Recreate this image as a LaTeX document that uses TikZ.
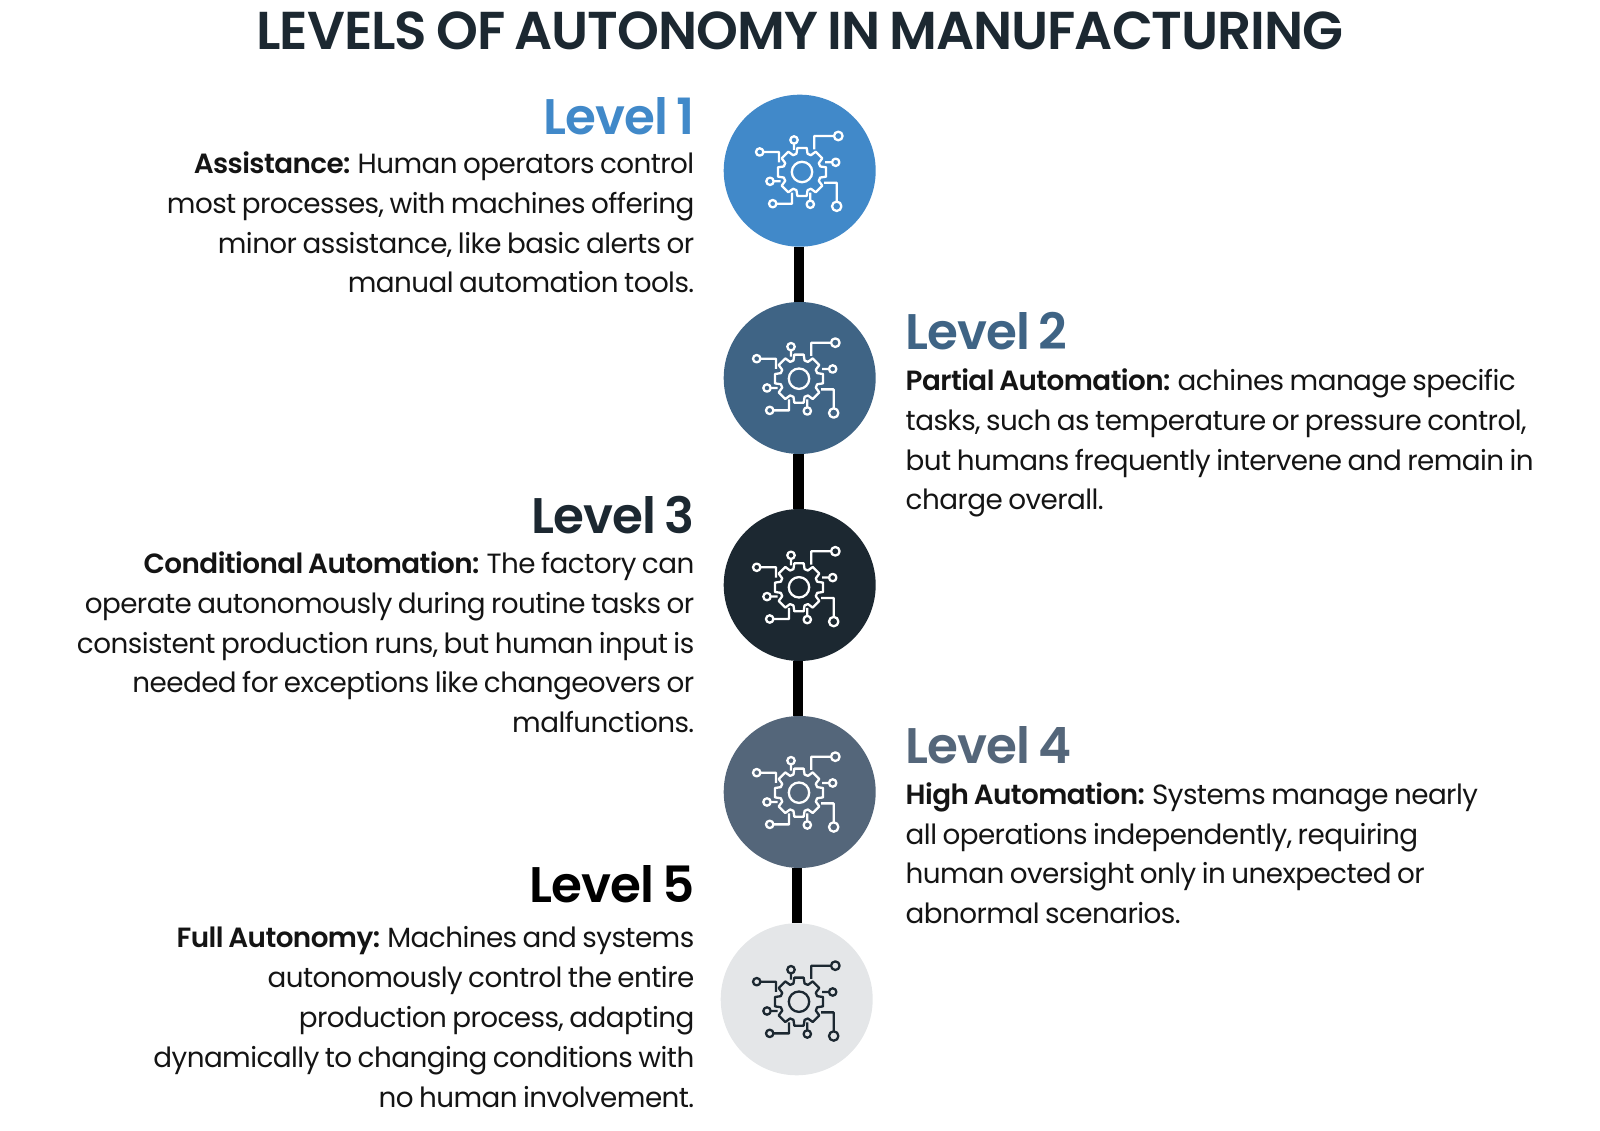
\documentclass[tikz,border=0pt]{standalone}
\usepackage{fontspec}
\setmainfont{Poppins}[LetterSpace=-2.0,WordSpace=0.8,BoldFont={Poppins SemiBold}]
\definecolor{levelone}{HTML}{4189C9}
\definecolor{leveltwo}{HTML}{3F6485}
\definecolor{levelthree}{HTML}{1C2831}
\definecolor{levelfour}{HTML}{54667A}
\definecolor{levelfive}{HTML}{E4E6E8}
\tikzset{
  discnode/.style={circle,minimum size=152pt,inner sep=0pt},
  stem/.style={line width=10.7pt,black},
  levelhead/.style={inner sep=0pt,font=\fontsize{50}{50}\selectfont\bfseries},
  bodyleft/.style={inner sep=0pt,anchor=base east,align=right,text=black!92,font=\fontsize{27.8}{39.8}\selectfont},
  bodyright/.style={inner sep=0pt,anchor=base west,align=left,text=black!92,font=\fontsize{27.8}{39.8}\selectfont},
  gearicon/.pic={
    \begin{scope}[line width=2.3pt,line join=round]
    \draw (0,0) circle[radius=10.2];
    \draw (-17:19) foreach \a in {0,45,...,315} {
      -- (\a-17:19) -- (\a-11:24.5) -- (\a+11:24.5) -- (\a+17:19)
      arc[start angle=\a+17,end angle=\a+28,radius=19]} -- cycle;
    % circuit traces
    \draw (12.3,22.7) -- (12.3,36) -- (32,36) (36.3,36) circle[radius=4.3];
    \draw (23,9.7) -- (30,9.7) (33.7,9.7) circle[radius=3.7];
    \draw (22,-10.7) -- (34.7,-10.7) -- (34.7,-29.6) (34.7,-34.3) circle[radius=4.7];
    \draw (8.3,-20.7) -- (8.3,-28.6) (8.3,-32.3) circle[radius=3.7];
    \draw (-10,-20.7) -- (-10,-31.7) -- (-25.6,-31.7) (-29.3,-31.7) circle[radius=3.7];
    \draw (-21.3,-9.3) -- (-28.3,-9.3) (-32,-9.3) circle[radius=3.7];
    \draw (-23,9.7) -- (-23,20) -- (-38.6,20) (-42.3,20) circle[radius=3.7];
    \draw (-8,22) -- (-8,28.3) (-8,32) circle[radius=3.7];
    \end{scope}
  },
}
\begin{document}
\begin{tikzpicture}[x=1pt,y=1pt]
  \useasboundingbox (0,0) rectangle (1600,1131);
  % Node: title
  \node (title) [inner sep=0pt,anchor=base,text=levelthree,font=\fontsize{53.3}{53.3}\selectfont\bfseries] at (800,1081.7) {LEVELS OF AUTONOMY IN MANUFACTURING};
  % Node: discs
  \node (disc1) [discnode,fill=levelone] at (799.7,960.3) {};
  \node (disc2) [discnode,fill=leveltwo] at (799.7,753) {};
  \node (disc3) [discnode,fill=levelthree] at (799.7,546) {};
  \node (disc4) [discnode,fill=levelfour] at (799.7,339) {};
  \node (disc5) [discnode,fill=levelfive] at (796.7,131.7) {};
  % Edge: disc1 -> disc2
  \draw [stem] ([xshift=-.7pt]disc1.south) -- ([xshift=-.7pt]disc2.north);
  % Edge: disc2 -> disc3
  \draw [stem] ([xshift=-1.2pt]disc2.south) -- ([xshift=-1.2pt]disc3.north);
  % Edge: disc3 -> disc4
  \draw [stem] ([xshift=-1.7pt]disc3.south) -- ([xshift=-1.7pt]disc4.north);
  % Edge: disc4 -> disc5
  \draw [stem] ([xshift=-2.7pt]disc4.south) -- ([xshift=.3pt]disc5.north);
  % Icons
  \pic [white] at (802,959) {gearicon};
  \pic [white] at (799,752.3) {gearicon};
  \pic [white] at (799,543.7) {gearicon};
  \pic [white] at (799,338.3) {gearicon};
  \pic [levelthree] at (799,129.3) {gearicon};
  % Node: level1
  \node (level1) [levelhead,anchor=base east,text=levelone] at (695,996.8) {Level 1};
  \node (text1) [bodyleft] at (694.5,838) {\textbf{Assistance:} Human operators control\\most processes, with machines offering\\minor assistance, like basic alerts or\\manual automation tools.};
  % Node: level2
  \node (level2) [levelhead,anchor=base west,text=leveltwo] at (905.5,781) {Level 2};
  \node (text2) [bodyright] at (905.5,621) {\textbf{Partial Automation:} achines manage specific\\tasks, such as temperature or pressure control,\\but humans frequently intervene and remain in\\charge overall.};
  % Node: level3
  \node (level3) [levelhead,anchor=base east,text=levelthree] at (695,597.3) {Level 3};
  \node (text3) [bodyleft] at (694.5,398.3) {\textbf{Conditional Automation:} The factory can\\operate autonomously during routine tasks or\\consistent production runs, but human input is\\needed for exceptions like changeovers or\\malfunctions.};
  % Node: level4
  \node (level4) [levelhead,anchor=base west,text=levelfour] at (905.5,367) {Level 4};
  \node (text4) [bodyright] at (905.5,207.3) {\textbf{High Automation:} Systems manage nearly\\all operations independently, requiring\\human oversight only in unexpected or\\abnormal scenarios.};
  % Node: level5
  \node (level5) [levelhead,anchor=base east,text=black] at (695,228) {Level 5};
  \node (text5) [bodyleft] at (694.5,23.8) {\textbf{Full Autonomy:} Machines and systems\\autonomously control the entire\\production process, adapting\\dynamically to changing conditions with\\no human involvement.};
\end{tikzpicture}
\end{document}
